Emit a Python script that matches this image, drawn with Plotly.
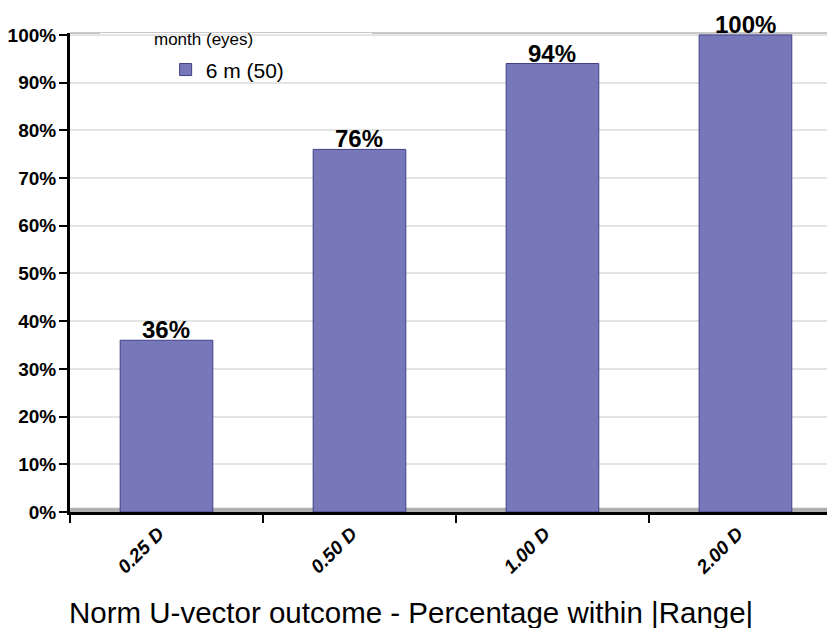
import plotly.graph_objects as go

categories = ["0.25 D", "0.50 D", "1.00 D", "2.00 D"]
values = [36, 76, 94, 100]
series_name = "6 m (50)"
legend_title = "month (eyes)"
y_ticks = [0, 10, 20, 30, 40, 50, 60, 70, 80, 90, 100]
y_tick_labels = [f"{t}%" for t in y_ticks]
chart_title = "Norm U-vector outcome - Percentage within |Range|"

FONT = "Liberation Sans, Arial, sans-serif"
BAR = "#7678BA"

fig = go.Figure()
fig.add_trace(go.Bar(
    x=categories, y=values, name=series_name, width=0.48,
    marker=dict(color=BAR, line=dict(color="#3f3f86", width=1)),
    showlegend=True,
))

for c, v in zip(categories, values):
    fig.add_annotation(x=c, y=v, text=f"<b>{v}%</b>", showarrow=False,
                       yanchor="bottom", yshift=-5,
                       font=dict(family=FONT, size=24, color="black"))

fig.add_annotation(xref="paper", yref="paper", x=0.446, y=-0.209,
                   text=chart_title, showarrow=False, xanchor="center", yanchor="middle",
                   font=dict(family=FONT, size=29.5, color="black"))
fig.add_annotation(xref="paper", yref="paper", x=0.107, y=0.987,
                   text=legend_title, showarrow=False, xanchor="left", yanchor="middle",
                   font=dict(family=FONT, size=17, color="black"))

# floor band and top border, legend background
fig.add_shape(type="rect", xref="paper", yref="y", x0=0, x1=1, y0=0, y1=0.9,
              fillcolor="#b0b0b0", line_width=0, layer="below")
fig.add_shape(type="line", xref="paper", yref="paper", x0=0, x1=1, y0=1, y1=1,
              line=dict(color="#c8c8c8", width=2), layer="below")
fig.add_shape(type="rect", xref="paper", yref="paper", x0=0.039, x1=0.395, y0=0.881, y1=1,
              fillcolor="white", line_width=0, layer="below")

fig.update_layout(
    width=827, height=620,
    margin=dict(l=62, r=0, t=25, b=116),
    plot_bgcolor="white", paper_bgcolor="white",
    font=dict(family=FONT, color="black"),
    bargap=0.52,
    legend=dict(x=0.125, y=0.923, xanchor="left", yanchor="middle",
                bgcolor="rgba(0,0,0,0)", font=dict(family=FONT, size=21)),
    xaxis=dict(
        type="category", range=[-0.5, 3.464], automargin=False,
        tickson="boundaries", ticks="outside", ticklen=8, tickwidth=2, tickcolor="black",
        showline=True, linecolor="black", linewidth=3,
        tickangle=-45, showgrid=False, ticklabelshift=-8,
        tickfont=dict(family=FONT, size=19, color="black", weight="bold", style="italic"),
    ),
    yaxis=dict(
        range=[0, 100.4], tickvals=y_ticks, ticktext=y_tick_labels, automargin=False,
        ticks="outside", ticklen=8, tickwidth=2, tickcolor="black",
        showline=True, linecolor="black", linewidth=3, ticklabelstandoff=-1,
        showgrid=True, gridcolor="#e4e4e4", gridwidth=2, zeroline=False,
        tickfont=dict(family=FONT, size=19, color="black", weight="bold"),
    ),
)

fig.write_html("out.html")
